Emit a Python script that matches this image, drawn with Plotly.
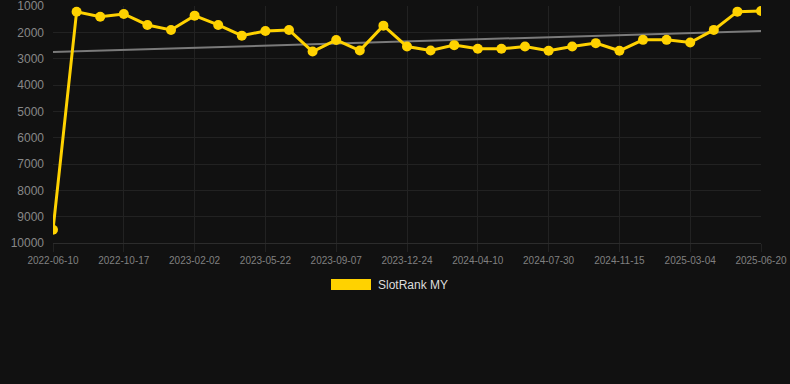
import numpy as np
import plotly.graph_objects as go

dates = [
    "2022-06-10", "2022-07-23", "2022-09-04",
    "2022-10-17", "2022-11-22", "2022-12-28",
    "2023-02-02", "2023-03-10", "2023-04-15",
    "2023-05-22", "2023-06-27", "2023-08-02",
    "2023-09-07", "2023-10-13", "2023-11-18",
    "2023-12-24", "2024-01-29", "2024-03-05",
    "2024-04-10", "2024-05-17", "2024-06-23",
    "2024-07-30", "2024-09-05", "2024-10-10",
    "2024-11-15", "2024-12-21", "2025-01-27",
    "2025-03-04", "2025-04-09", "2025-05-15",
    "2025-06-20",
]
ranks = [
    9500, 1216, 1405, 1303, 1720, 1910, 1367, 1720, 2125, 1947,
    1910, 2731, 2288, 2693, 1746, 2538, 2690, 2486, 2625, 2625,
    2538, 2700, 2538, 2410, 2700, 2285, 2285, 2386, 1907, 1215,
    1190,
]
tick_labels = dates[::3]
y_ticks = [1000, 2000, 3000, 4000, 5000, 6000, 7000, 8000, 9000, 10000]
series_name = "SlotRank MY"

idx = np.arange(len(ranks))
slope, intercept = np.polyfit(idx, ranks, 1)
trend = slope * idx + intercept

BG = "#111111"
GRID = "#222222"
GOLD = "#FFD200"

L, R, T, B = 53, 29, 6, 141
PW = 790 - L - R
PH = 384 - T - B
PB = 384 - B  # pixel row of the plot bottom

fig = go.Figure()
fig.add_trace(go.Scatter(
    x=dates, y=trend, mode="lines",
    line=dict(color="#7a7a7a", width=2),
    hoverinfo="skip", showlegend=False,
))
fig.add_trace(go.Scatter(
    x=dates, y=ranks, mode="lines+markers", name=series_name,
    line=dict(color=GOLD, width=3),
    marker=dict(color=GOLD, size=10),
    showlegend=False,
))

# custom legend (rectangle + text)
fig.add_shape(type="rect", xref="paper", yref="paper",
              x0=(331 - L) / PW, x1=(371 - L) / PW,
              y0=-(290 - PB) / PH, y1=-(279 - PB) / PH,
              fillcolor=GOLD, line=dict(width=0))
fig.add_annotation(xref="paper", yref="paper",
                   x=(376 - L) / PW, y=-(284.5 - PB) / PH,
                   xanchor="left", yanchor="middle", showarrow=False,
                   text=series_name,
                   font=dict(family="Liberation Sans, Arial, sans-serif", size=12, color="#dddddd"))

fig.update_layout(
    width=790, height=384,
    paper_bgcolor=BG, plot_bgcolor=BG,
    margin=dict(l=L, r=R, t=T, b=B, autoexpand=False),
    font=dict(family="Liberation Sans, Arial, sans-serif", color="#888888"),
    showlegend=False,
    xaxis=dict(
        type="category", range=[0, len(dates) - 1],
        tickmode="array", tickvals=tick_labels, ticktext=tick_labels,
        showgrid=True, gridcolor=GRID, gridwidth=1,
        ticks="outside", ticklen=8, tickcolor=GRID,
        tickfont=dict(size=10, color="#808080"),
        showline=True, linecolor="#2c2c2c", linewidth=1,
        zeroline=False, ticklabeloverflow="allow", automargin=False,
    ),
    yaxis=dict(
        range=[10000, 1000], tickvals=y_ticks,
        tickformat="d",
        showgrid=True, gridcolor=GRID, gridwidth=1,
        tickfont=dict(size=12, color="#888888"),
        zeroline=False, ticks="", ticklabelstandoff=8,
        ticklabeloverflow="allow", automargin=False,
    ),
)

fig.write_html(
    "out.html",
    config={"displayModeBar": False},
    post_script="document.body.style.margin='0';document.body.style.background='#111111';",
)
